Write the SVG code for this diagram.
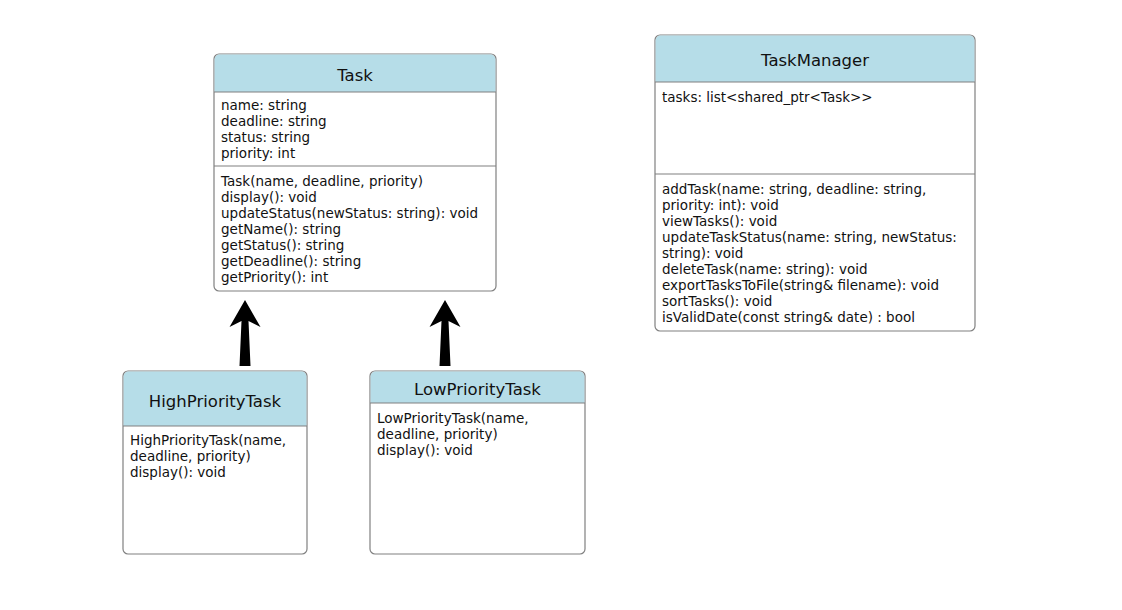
<svg xmlns="http://www.w3.org/2000/svg" width="1122" height="610" viewBox="0 0 1122 610">
<style>
.box{fill:#fff;stroke:#808080;stroke-width:1.2}
.hdr{fill:#b6dde8}
.sep{stroke:#808080;stroke-width:1.2}
.title{font-family:"DejaVu Sans",Verdana,sans-serif;font-size:16.5px;fill:#111;text-anchor:middle}
.t{font-family:"DejaVu Sans",Verdana,sans-serif;font-size:13.5px;fill:#111}
.arrow{fill:#000}
</style>
<rect width="1122" height="610" fill="#fff"/>
<g id="Task">
<rect class="box" x="214" y="54" width="282" height="237" rx="5"/>
<path class="hdr" d="M219.6,54.6 H490.4 A5,5 0 0 1 495.4,59.6 V92 H214.6 V59.6 A5,5 0 0 1 219.6,54.6 Z"/>
<line class="sep" x1="214" y1="92" x2="496" y2="92"/>
<line class="sep" x1="214" y1="166" x2="496" y2="166"/>
<text class="title" x="355" y="81">Task</text>
<text class="t" x="221" y="110">name: string</text>
<text class="t" x="221" y="126">deadline: string</text>
<text class="t" x="221" y="142">status: string</text>
<text class="t" x="221" y="158">priority: int</text>
<text class="t" x="221" y="186">Task(name, deadline, priority)</text>
<text class="t" x="221" y="202">display(): void</text>
<text class="t" x="221" y="218">updateStatus(newStatus: string): void</text>
<text class="t" x="221" y="234">getName(): string</text>
<text class="t" x="221" y="250">getStatus(): string</text>
<text class="t" x="221" y="266">getDeadline(): string</text>
<text class="t" x="221" y="282">getPriority(): int</text>
</g>
<g id="TaskManager">
<rect class="box" x="655" y="35" width="320" height="296" rx="5"/>
<path class="hdr" d="M660.6,35.6 H969.4 A5,5 0 0 1 974.4,40.6 V82 H655.6 V40.6 A5,5 0 0 1 660.6,35.6 Z"/>
<line class="sep" x1="655" y1="82" x2="975" y2="82"/>
<line class="sep" x1="655" y1="174" x2="975" y2="174"/>
<text class="title" x="815" y="66">TaskManager</text>
<text class="t" x="662" y="102">tasks: list&lt;shared_ptr&lt;Task&gt;&gt;</text>
<text class="t" x="662" y="194">addTask(name: string, deadline: string,</text>
<text class="t" x="662" y="210">priority: int): void</text>
<text class="t" x="662" y="226">viewTasks(): void</text>
<text class="t" x="662" y="242">updateTaskStatus(name: string, newStatus:</text>
<text class="t" x="662" y="258">string): void</text>
<text class="t" x="662" y="274">deleteTask(name: string): void</text>
<text class="t" x="662" y="290">exportTasksToFile(string&amp; filename): void</text>
<text class="t" x="662" y="306">sortTasks(): void</text>
<text class="t" x="662" y="322">isValidDate(const string&amp; date) : bool</text>
</g>
<g id="HighPriorityTask">
<rect class="box" x="123" y="371" width="184" height="183" rx="5"/>
<path class="hdr" d="M128.6,371.6 H301.4 A5,5 0 0 1 306.4,376.6 V426 H123.6 V376.6 A5,5 0 0 1 128.6,371.6 Z"/>
<line class="sep" x1="123" y1="426" x2="307" y2="426"/>
<text class="title" x="215" y="407">HighPriorityTask</text>
<text class="t" x="130" y="445">HighPriorityTask(name,</text>
<text class="t" x="130" y="461">deadline, priority)</text>
<text class="t" x="130" y="477">display(): void</text>
</g>
<g id="LowPriorityTask">
<rect class="box" x="370" y="371" width="215" height="183" rx="5"/>
<path class="hdr" d="M375.6,371.6 H579.4 A5,5 0 0 1 584.4,376.6 V403 H370.6 V376.6 A5,5 0 0 1 375.6,371.6 Z"/>
<line class="sep" x1="370" y1="403" x2="585" y2="403"/>
<text class="title" x="477.5" y="395">LowPriorityTask</text>
<text class="t" x="377" y="423">LowPriorityTask(name,</text>
<text class="t" x="377" y="439">deadline, priority)</text>
<text class="t" x="377" y="455">display(): void</text>
</g>
<g id="connectors">
<path class="arrow" d="M245,300 L260.5,327 L248.5,321 L250.5,366 L239.5,366 L241.5,321 L229.5,327 Z"/>
<path class="arrow" d="M445,300 L460.5,327 L448.5,321 L450.5,366 L439.5,366 L441.5,321 L429.5,327 Z"/>
</g>
</svg>
